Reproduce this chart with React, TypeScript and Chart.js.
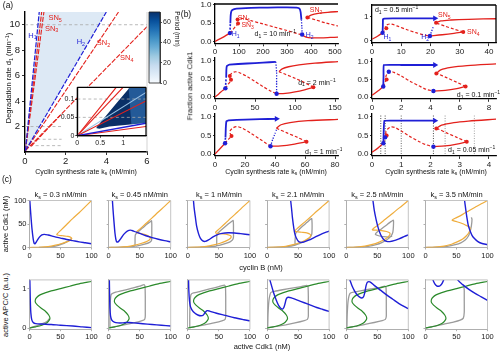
import React, { useEffect, useRef } from "react";
import { Chart, registerables } from "chart.js";

Chart.register(...registerables);

type P = [number, number];

const FONT = "'Liberation Sans', Arial, Helvetica, sans-serif";
const RED = "#e3211c";
const BLUE = "#1f1fd6";
const ORANGE = "#efad3d";
const GREEN = "#2b8a2b";
const GRAY = "#9b9b9b";
const BLUES = ["#f7fbff", "#deebf7", "#c6dbef", "#9ecae1", "#6baed6", "#4292c6", "#2171b5", "#08519c", "#08306b"];

// ================= (a) =================
const A_X_TICKS = [0, 2, 4, 6];
const A_Y_TICKS = [2, 4, 6, 8, 10];
const A_D_VALUES = [10, 2, 1, 0.5];
const A_D_SPANS: P[] = [[0, 6], [0, 1.8], [0.6, 1.8], [0.25, 1.8]];
const A_WEDGE: P[] = [[0.02, 0.1], [0.7, 11], [4.0, 11], [0.02, 0.1]];
const A_H1: P[] = [[0.02, 0.1], [0.7, 11]];
const A_SN3: P[] = [[0.02, 0.1], [0.82, 11]];
const A_SN5: P[] = [[0.02, 0.1], [0.93, 11]];
const A_H2: P[] = [[0.02, 0.1], [4.0, 11]];
const A_SN2: P[] = [[0.02, 0.1], [4.6, 11]];
const A_SN4: P[] = [[0.02, 0.1], [6, 9.85]];
const A_SN1: P[] = [[0.3, 0.45], [1.75, 2.9]];

const CB_TICKS = [0, 20, 40, 60];
const CB_MAX = 70;

const IN_X_TICKS = [0, 0.5, 1];
const IN_Y_TICKS = [0, 0.05, 0.1];
const IN_D_VALUES = [0.1, 0.05];
const IN_DARK: P[] = [[0.42, 0.023], [0.5, 0.035], [0.7, 0.065], [0.9, 0.095], [1.15, 0.132], [1.5, 0.132], [1.5, 0.035], [1.1, 0.03], [0.7, 0.025], [0.48, 0.019], [0.43, 0.02], [0.42, 0.023]];
const IN_MID: P[] = [[1.12, 0.132], [1.5, 0.132], [1.5, 0.035], [1.18, 0.031], [1.12, 0.132]];
const IN_RED1: P[] = [[0, 0], [0.85, 0.132]];
const IN_RED2: P[] = [[0, 0], [1.0, 0.132]];
const IN_LB: P[] = [[0, 0], [1.5, 0.118]];
const IN_RED3: P[] = [[0, 0], [1.5, 0.095]];
const IN_BLUE: P[] = [[0, 0], [1.5, 0.034]];
const IN_RED4: P[] = [[0, 0], [1.5, 0.025]];

// ================= (b) =================
const B1_X_TICKS = [0, 100, 200, 300, 400, 500];
const B2_X_TICKS = [0, 50, 100, 150];
const B3_X_TICKS = [0, 20, 40, 60, 80];
const B4_X_TICKS = [0, 10, 20, 30, 40];
const B5_X_TICKS = [0, 2, 4, 6, 8];
const B6_X_TICKS = [0, 1, 2, 3, 4];
const B_Y_TICKS = [0, 0.5, 1];
const B4_Y_TICKS = [0, 1];

const B1_RED_LO: P[] = [[0, 0], [20, 0.07], [40, 0.14], [62, 0.23]];
const B1_RED_UNST: P[] = [[62, 0.23], [75, 0.33], [88, 0.43], [96, 0.49], [93, 0.55], [94, 0.6], [102, 0.63], [115, 0.63], [150, 0.57], [200, 0.48], [250, 0.39], [300, 0.3], [340, 0.22], [362, 0.18]];
const B1_RED_LO2: P[] = [[362, 0.18], [380, 0.12], [400, 0.1], [440, 0.1], [480, 0.11], [515, 0.12]];
const B1_RED_MID: P[] = [[385, 0.66], [420, 0.59], [460, 0.51], [515, 0.42]];
const B1_RED_UP: P[] = [[385, 0.66], [400, 0.72], [430, 0.77], [470, 0.8], [515, 0.82]];
const B1_BLUE_UNST: P[] = [[62, 0.23], [63, 0.36], [64, 0.5]];
const B1_BLUE: P[] = [[64, 0.5], [65, 0.68], [67, 0.8], [72, 0.86], [90, 0.9], [150, 0.92], [220, 0.93], [300, 0.935], [340, 0.925], [352, 0.9], [357, 0.8], [360, 0.6]];
const B1_BLUE_UNST2: P[] = [[360, 0.6], [362, 0.4], [363, 0.2]];
const B1_DOTS_B: P[] = [[62, 0.23], [363, 0.19]];
const B1_DOTS_R: P[] = [[96, 0.49], [94, 0.6], [385, 0.66]];

const B2_RED_LO: P[] = [[0, 0], [5, 0.09], [9, 0.17], [13, 0.24]];
const B2_RED_UNST: P[] = [[13, 0.24], [16, 0.34], [19, 0.43], [20, 0.48], [18.5, 0.54], [18.5, 0.6], [21, 0.66], [25, 0.7], [30, 0.68], [40, 0.57], [50, 0.43], [60, 0.29], [70, 0.16], [77, 0.09]];
const B2_RED_LO2: P[] = [[77, 0.09], [88, 0.1], [100, 0.14], [112, 0.2], [123, 0.27]];
const B2_RED_MID: P[] = [[123, 0.27], [112, 0.4], [100, 0.52], [88, 0.63], [80, 0.7]];
const B2_RED_UP: P[] = [[80, 0.7], [84, 0.78], [92, 0.84], [105, 0.89], [125, 0.94], [155, 0.985]];
const B2_BLUE_UNST: P[] = [[13, 0.24], [13.5, 0.4], [14, 0.55]];
const B2_BLUE: P[] = [[14, 0.55], [14.2, 0.75], [14.8, 0.86], [18, 0.9], [40, 0.93], [60, 0.955], [76, 0.975]];
const B2_BLUE_UNST2: P[] = [[76, 0.975], [77, 0.7], [77, 0.4], [77, 0.09]];
const B2_DOTS_B: P[] = [[13, 0.24], [77, 0.09]];
const B2_DOTS_R: P[] = [[20, 0.48], [18.5, 0.58], [123, 0.27]];

const B3_RED_LO: P[] = [[0, 0], [3, 0.13], [6.7, 0.29]];
const B3_RED_UNST: P[] = [[6.7, 0.29], [8.5, 0.38], [10.5, 0.46], [11, 0.5], [10, 0.56], [10, 0.62], [11.8, 0.7], [14.5, 0.74], [18, 0.7], [24, 0.56], [30, 0.4], [34, 0.29], [37, 0.21]];
const B3_RED_LO2: P[] = [[37, 0.21], [44, 0.22], [52, 0.26], [61, 0.33]];
const B3_RED_MID: P[] = [[61, 0.33], [55, 0.45], [48, 0.57], [42.5, 0.67], [41, 0.7]];
const B3_RED_UP: P[] = [[41, 0.7], [44, 0.79], [50, 0.85], [62, 0.9], [83, 0.935]];
const B3_BLUE_UNST: P[] = [[6.7, 0.29], [7, 0.45]];
const B3_BLUE: P[] = [[7, 0.45], [7.2, 0.7], [7.6, 0.88], [9, 0.91], [20, 0.93], [30, 0.94], [41, 0.95]];
const B3_BLUE_UNST2: P[] = [[37, 0.21], [38.5, 0.4], [40, 0.55], [41, 0.66]];
const B3_DOTS_B: P[] = [[6.7, 0.29], [37, 0.21]];
const B3_DOTS_R: P[] = [[11, 0.49], [61, 0.33]];

const B4_RED_LO: P[] = [[0, 0.06], [2, 0.2], [3.6, 0.33]];
const B4_RED_UNST: P[] = [[3.6, 0.33], [4.4, 0.45], [4.9, 0.52], [4.6, 0.6], [5.3, 0.68], [6.5, 0.7], [9, 0.6], [12, 0.46], [15, 0.34], [18, 0.24], [19.8, 0.2]];
const B4_RED_LO2: P[] = [[19.8, 0.2], [24, 0.25], [28, 0.31], [31.2, 0.37]];
const B4_RED_MID: P[] = [[31.2, 0.37], [28, 0.49], [25, 0.61], [22.5, 0.72], [21.9, 0.75]];
const B4_RED_UP: P[] = [[21.9, 0.75], [23.5, 0.83], [27, 0.87], [33, 0.9], [43, 0.925]];
const B4_BLUE: P[] = [[3.6, 0.33], [3.7, 0.6], [3.75, 0.9], [4.2, 0.93], [10, 0.94], [16, 0.94], [21.5, 0.94]];
const B4_BLUE_UNST2: P[] = [[19.8, 0.2], [20.4, 0.4], [21, 0.6]];
const B4_DOTS_B: P[] = [[3.6, 0.33], [19.8, 0.2]];
const B4_DOTS_R: P[] = [[4.9, 0.52], [31.2, 0.37], [21.9, 0.75]];

const B5_RED_LO: P[] = [[0, 0.05], [0.4, 0.17], [0.77, 0.3]];
const B5_RED_UNST: P[] = [[0.77, 0.3], [0.9, 0.43], [1.0, 0.5], [0.95, 0.58], [1.05, 0.67], [1.25, 0.73], [1.5, 0.7], [2, 0.6], [2.6, 0.45], [3.2, 0.32], [3.7, 0.22], [4.2, 0.17]];
const B5_RED_LO2: P[] = [[4.2, 0.17], [5, 0.19], [5.8, 0.24], [6.4, 0.3]];
const B5_RED_MID: P[] = [[6.4, 0.3], [5.8, 0.42], [5.1, 0.55], [4.55, 0.65], [4.4, 0.67]];
const B5_RED_UP: P[] = [[4.4, 0.67], [4.7, 0.77], [5.4, 0.84], [6.5, 0.89], [8.5, 0.94]];
const B5_BLUE: P[] = [[0.77, 0.3], [0.79, 0.6], [0.8, 0.91], [2, 0.91], [3, 0.91], [4.3, 0.91]];
const B5_DOTS_B: P[] = [[0.77, 0.3], [1.15, 0.72], [4.2, 0.17]];
const B5_DOTS_R: P[] = [[1.0, 0.5], [6.4, 0.3], [4.4, 0.67]];

const B6_RED_LO: P[] = [[0, 0.05], [0.2, 0.16], [0.39, 0.29]];
const B6_RED_UNST: P[] = [[0.39, 0.29], [0.45, 0.42], [0.5, 0.5], [0.47, 0.58], [0.53, 0.67], [0.66, 0.73], [0.8, 0.71], [1.0, 0.62], [1.3, 0.47], [1.6, 0.34], [1.85, 0.25], [2.1, 0.2]];
const B6_RED_LO2: P[] = [[2.1, 0.2], [2.5, 0.22], [2.9, 0.27], [3.24, 0.33]];
const B6_RED_MID: P[] = [[3.24, 0.33], [2.9, 0.45], [2.55, 0.57], [2.28, 0.67], [2.2, 0.69]];
const B6_RED_UP: P[] = [[2.2, 0.69], [2.38, 0.78], [2.8, 0.85], [3.3, 0.89], [4.25, 0.94]];
const B6_BLUE: P[] = [[0.39, 0.29], [0.4, 0.6], [0.42, 0.9], [1, 0.9], [1.6, 0.9], [2.15, 0.9]];
const B6_DOTS_B: P[] = [[0.39, 0.29], [0.45, 0.45], [2.1, 0.2]];
const B6_DOTS_R: P[] = [[0.5, 0.5], [3.24, 0.33], [2.2, 0.69]];

// ================= (c) =================
const KS_VALUES = [0.3, 0.45, 1, 2.1, 2.5, 3.5];
const KS_LABELS = ["0.3", "0.45", "1", "2.1", "2.5", "3.5"];
const KS_LINE_COLORS = ["#333", "#333", "#555", "#333", "#888", "#999"];
const C_X_TICKS = [0, 50, 100];
const C_R1_Y_TICKS = [0, 50, 100];
const C_R2_Y_TICKS = [0, 1];

const C_OR_1: P[] = [[0, 0], [15, 0.5], [30, 2], [42, 5], [52, 8.5], [60, 12], [65, 15], [68, 18.5], [67, 21.5], [62, 23.5], [54, 25], [47, 26], [44, 27.5], [45, 29.5], [50, 36], [60, 49], [70, 62], [80, 74], [90, 87], [100, 100]];
const C_OR_2: P[] = [[0, 0], [15, 0.5], [30, 2], [42, 5], [52, 8.5], [60, 12], [65, 15.5], [67, 19], [66, 23], [61, 26.5], [54, 29], [48, 31], [45, 32.5], [46, 34.5], [50, 39], [60, 51], [70, 63], [80, 75.5], [90, 87.5], [100, 100]];
const C_OR_3: P[] = [[0, 0], [15, 0.6], [30, 2.2], [42, 5.5], [52, 9], [60, 13], [66, 17], [69.5, 21], [69, 25], [64, 27.5], [56, 29], [49, 30], [45, 31], [45, 33], [50, 39], [60, 51], [70, 63.5], [80, 75.5], [90, 88], [100, 100]];
const C_OR_4: P[] = [[0, 0], [15, 0.7], [30, 2.5], [42, 6], [52, 10], [60, 14.5], [66, 19], [70, 24], [69.5, 28], [64, 31], [56, 32.5], [49, 33.5], [45, 34], [45, 36], [50, 42], [60, 53.5], [70, 65], [80, 77], [90, 88.5], [100, 100]];
const C_OR_5: P[] = [[0, 0], [15, 0.8], [30, 2.8], [42, 6.5], [52, 11], [60, 16], [66, 21], [70, 26.5], [70, 31], [65, 34], [57, 36], [48, 37], [42, 37.5], [43, 39.5], [50, 46.5], [60, 57], [70, 67.5], [80, 78.5], [90, 89], [100, 100]];
const C_OR_6: P[] = [[0, 0], [15, 0.8], [30, 3], [42, 7], [52, 12.5], [60, 18], [66, 25], [70, 32], [72, 38], [71, 43], [65, 47.5], [57, 52], [49, 55.5], [43, 58], [44, 59.5], [50, 63.5], [60, 70.5], [70, 78], [80, 85.5], [90, 93], [100, 100]];

const C_BL1_1: P[] = [[0.5, 100], [2, 72], [4, 40], [6, 18], [7.5, 9], [9, 8], [12, 14], [16, 22], [20, 27], [24, 28], [30, 26.5], [40, 23], [50, 20], [60, 17], [70, 14.5], [80, 12], [90, 10], [100, 8]];
const C_BL1_2: P[] = [[6, 100], [7, 80], [8.5, 55], [10, 32], [11.5, 18], [13, 12], [16, 13], [20, 20], [25, 29], [30, 35], [35, 37], [40, 35], [50, 30], [60, 25], [70, 21], [80, 17.5], [90, 14.5], [100, 12]];
const C_BL1_3: P[] = [[9, 100], [10, 85], [12, 65], [14, 46], [17, 30], [20, 20], [24, 14], [28, 13], [33, 16], [40, 22], [47, 27], [55, 30], [65, 31.5], [75, 31], [85, 29.5], [100, 27]];
const C_BL1_4: P[] = [[38, 100], [39.5, 82], [41, 62], [43, 42], [45, 28], [48, 18], [51, 12.5], [55, 11], [60, 12], [67, 15.5], [75, 20.5], [85, 27], [100, 35]];
const C_BL1_5: P[] = [[43, 100], [45, 80], [48, 60], [51, 44], [54, 32], [57, 23], [61, 16], [65, 13], [70, 12.5], [77, 14.5], [85, 18.5], [93, 23], [100, 27]];
const C_BL1_6: P[] = [[63, 100], [65, 80], [67, 62], [69, 47], [72, 35], [75, 26], [79, 19], [84, 13], [90, 9], [100, 6]];

const C_GR1_1: P[] = [[15, 0], [30, 1], [42, 3], [52, 7], [60, 12], [65, 16], [67, 19]];
const C_GR1_2: P[] = [[0, 0], [20, 0.8], [35, 1.8], [42, 2.5], [42.5, 10], [42.5, 20], [43, 27], [47, 33], [55, 42], [62, 50], [67, 55], [69, 57], [69.5, 50], [69.5, 35], [69.5, 22], [69, 15], [66, 11], [58, 7], [50, 4.5], [43, 2.8]];
const C_GR1_3: P[] = [[0, 0], [20, 0.8], [35, 2], [46, 3.5], [46.5, 12], [46.5, 22], [47, 28], [51, 34], [58, 42], [65, 50], [71, 56], [73, 57.5], [73.5, 48], [73.5, 33], [73.5, 22], [72, 16], [68, 12], [60, 8], [52, 5], [46, 3.5]];
const C_GR1_4: P[] = [[0, 0], [20, 0.8], [35, 2.5], [45, 5], [45, 12], [45.5, 22], [46, 30], [50, 36], [57, 45], [64, 53], [70, 60], [72, 61.5], [72.5, 52], [72.5, 38], [72, 28], [69, 21], [63, 15], [55, 10], [48, 6.5], [45, 5]];
const C_GR1_5: P[] = [[0, 0], [20, 0.8], [35, 2.5], [48, 6], [58, 11], [66, 17], [72, 24], [75, 32], [76, 45], [76, 58], [72, 55], [64, 47], [56, 39], [49, 32], [47, 28], [52, 25], [60, 23], [68, 22], [74, 24]];
const C_GR1_6: P[] = [[0, 0], [20, 0.8], [35, 2.5], [48, 6], [57, 10], [64, 16], [69, 24], [72, 34], [74, 46], [75, 60], [74, 64]];

const C_GREEN: P[] = [[0, 0], [10, 0.03], [20, 0.07], [27, 0.12], [31, 0.18], [33, 0.25], [31, 0.33], [26, 0.42], [19, 0.5], [13, 0.58], [9.5, 0.65], [9.5, 0.72], [12, 0.78], [17, 0.84], [25, 0.89], [35, 0.94], [50, 1.0], [65, 1.06], [80, 1.12], [100, 1.18]];

const C_BL2_1: P[] = [[0.5, 1.25], [1, 0.9], [1.5, 0.6], [2.2, 0.38], [3.5, 0.22], [6, 0.14], [10, 0.11], [20, 0.1], [35, 0.09], [50, 0.07], [70, 0.05], [85, 0.03], [100, 0.01]];
const C_BL2_2: P[] = [[1, 1.25], [1.5, 0.8], [2, 0.5], [3, 0.3], [5, 0.2], [9, 0.15], [15, 0.13], [22, 0.13], [28, 0.14], [33, 0.14], [40, 0.13], [55, 0.11], [70, 0.09], [85, 0.07], [100, 0.05]];
const C_BL2_3: P[] = [[1, 1.25], [1.5, 0.95], [2.5, 0.7], [4, 0.55], [7, 0.45], [11, 0.38], [16, 0.33], [21, 0.31], [25, 0.33], [28, 0.4], [31, 0.44], [35, 0.43], [45, 0.38], [60, 0.32], [75, 0.26], [90, 0.21], [100, 0.18]];
const C_BL2_4: P[] = [[4, 1.25], [7, 1.08], [10, 0.92], [13, 0.78], [16, 0.66], [19, 0.56], [22, 0.5], [25, 0.48], [27, 0.52], [29, 0.62], [31, 0.74], [34, 0.78], [40, 0.76], [50, 0.7], [60, 0.64], [70, 0.58], [80, 0.52], [90, 0.47], [100, 0.42]];
const C_BL2_5: P[] = [[5, 1.25], [9, 1.08], [13, 0.95], [17, 0.85], [21, 0.79], [25, 0.76], [28, 0.8], [30, 0.92], [32, 1.08], [34, 1.16], [38, 1.17], [45, 1.08], [55, 0.96], [65, 0.84], [75, 0.73], [85, 0.62], [100, 0.49]];
const C_BL2_6: P[] = [[9, 1.4], [12, 1.22], [15, 1.12], [18, 1.07], [21, 1.06], [24, 1.08], [27, 1.14], [30, 1.25], [33, 1.4], [40, 1.55], [47, 1.4], [52, 1.22], [60, 1.1], [70, 0.98], [80, 0.88], [90, 0.79], [100, 0.7]];

const C_GR2_1: P[] = [[0, 0], [8, 0.04], [16, 0.08], [24, 0.13], [29, 0.18], [32, 0.24]];
const C_GR2_2: P[] = [[2, 0.01], [2, 0.3], [2.5, 0.65], [4, 0.85], [8, 0.89], [20, 0.94], [35, 1.0], [50, 1.06], [57, 1.1], [58.5, 1.06], [59, 0.8], [59, 0.5], [59, 0.3], [58, 0.22], [54, 0.19], [40, 0.13], [25, 0.08], [12, 0.04], [2, 0.01]];
const C_GR2_3: P[] = [[3, 0.01], [3, 0.3], [3.5, 0.65], [5, 0.85], [9, 0.89], [20, 0.93], [35, 0.99], [50, 1.05], [59, 1.09], [60.5, 1.05], [61, 0.8], [61, 0.5], [61, 0.3], [60, 0.22], [56, 0.19], [42, 0.13], [27, 0.08], [14, 0.04], [3, 0.01]];
const C_GR2_4: P[] = [[1, 0.01], [1.5, 0.35], [3, 0.7], [6, 0.9], [12, 0.93], [25, 0.97], [40, 1.01], [55, 1.05], [64, 1.08], [66, 1.05], [66.5, 0.8], [66.5, 0.5], [66.5, 0.3], [65, 0.22], [60, 0.19], [45, 0.13], [30, 0.08], [15, 0.04], [1, 0.01]];
const C_GR2_5: P[] = [[1, 0.01], [1.5, 0.35], [3, 0.7], [6, 0.88], [12, 0.91], [25, 0.95], [40, 0.99], [55, 1.03], [62, 1.06], [64, 1.03], [64.5, 0.8], [64.5, 0.5], [64.5, 0.3], [63, 0.22], [58, 0.19], [45, 0.14], [30, 0.09], [15, 0.04], [1, 0.01]];
const C_GR2_6: P[] = [[0, 0], [15, 0.05], [30, 0.1], [45, 0.15], [56, 0.2], [61, 0.25], [62.5, 0.4], [62.5, 0.7], [62.5, 0.95], [62, 1.05]];

// ================= machinery =================
interface Ax { min: number; max: number; ticks: number[]; labels?: boolean; fmt?: (v: number) => string; size?: number; tl?: number; pad?: number; color?: string; bw?: number; hidden?: boolean; }
interface Ser { pts: P[]; color: string; w?: number; dash?: number[]; fill?: any; dot?: number; arrow?: boolean; t?: number; }
interface Txt { x: number; y: number; parts: [string, number][]; color?: string; size?: number; align?: string; }
interface Spec { area: number[]; m: number[]; x: Ax; y: Ax; yRight?: boolean; series: Ser[]; texts?: Txt[]; frame?: { color: string; w: number; sides: string }; bg?: string; }

function makeScale(a: Ax, horiz: boolean, position: string, size: number) {
  const col = a.color ?? "#000";
  return {
    type: "linear",
    position,
    min: a.min,
    max: a.max,
    bounds: "data",
    display: !a.hidden,
    afterBuildTicks: (s: any) => {
      s.ticks = a.ticks.map((v) => ({ value: v }));
    },
    afterFit: (s: any) => {
      if (horiz) s.height = size;
      else s.width = size;
      s.paddingLeft = 0;
      s.paddingRight = 0;
      s.paddingTop = 0;
      s.paddingBottom = 0;
    },
    ticks: {
      display: a.labels !== false,
      autoSkip: false,
      maxRotation: 0,
      minRotation: 0,
      padding: a.pad ?? 1,
      color: "#1a1a1a",
      font: { family: FONT, size: a.size ?? 8 },
      callback: (v: any) => (a.fmt ? a.fmt(Number(v)) : String(v)),
    },
    grid: { display: true, drawOnChartArea: false, drawTicks: true, tickLength: a.tl ?? 3, color: col, tickColor: col, tickWidth: 0.8, lineWidth: 0.8 },
    border: { display: true, color: col, width: a.bw ?? 1.2 },
  };
}

function drawRich(ctx: CanvasRenderingContext2D, x: number, y: number, parts: [string, number][], size: number, color: string, align: string) {
  const seg = parts.map(([s, m]) => {
    const fs = m ? size * 0.72 : size;
    ctx.font = `${fs}px ${FONT}`;
    return { s, m, fs, w: ctx.measureText(s).width };
  });
  const tw = seg.reduce((acc, g) => acc + g.w, 0);
  let cx = align === "center" ? x - tw / 2 : align === "right" ? x - tw : x;
  ctx.fillStyle = color;
  ctx.textBaseline = "middle";
  ctx.textAlign = "left";
  for (const g of seg) {
    ctx.font = `${g.fs}px ${FONT}`;
    const dy = g.m === 1 ? size * 0.3 : g.m === 2 ? -size * 0.35 : 0;
    ctx.fillText(g.s, cx, y + dy);
    cx += g.w;
  }
}

function overlay(spec: Spec) {
  return {
    id: "overlay",
    beforeDraw(chart: any) {
      if (!spec.bg) return;
      const { ctx, chartArea: a } = chart;
      ctx.save();
      ctx.fillStyle = spec.bg;
      ctx.fillRect(a.left, a.top, a.right - a.left, a.bottom - a.top);
      ctx.restore();
    },
    afterDraw(chart: any) {
      const { ctx, chartArea: a } = chart;
      ctx.save();
      if (spec.frame) {
        const f = spec.frame;
        ctx.strokeStyle = f.color;
        ctx.lineWidth = f.w;
        ctx.beginPath();
        if (f.sides.includes("t")) { ctx.moveTo(a.left, a.top); ctx.lineTo(a.right, a.top); }
        if (f.sides.includes("r")) { ctx.moveTo(a.right, a.top); ctx.lineTo(a.right, a.bottom); }
        if (f.sides.includes("b")) { ctx.moveTo(a.left, a.bottom); ctx.lineTo(a.right, a.bottom); }
        if (f.sides.includes("l")) { ctx.moveTo(a.left, a.top); ctx.lineTo(a.left, a.bottom); }
        ctx.stroke();
      }
      for (const t of spec.texts ?? []) {
        const px = chart.scales.x.getPixelForValue(t.x);
        const py = chart.scales.y.getPixelForValue(t.y);
        drawRich(ctx, px, py, t.parts, t.size ?? 7, t.color ?? "#111", t.align ?? "left");
      }
      ctx.restore();
    },
  };
}

function buildConfig(spec: Spec, ML: number, MT: number, MR: number, MB: number) {
  const datasets: any[] = [];
  spec.series.forEach((s, i) => {
    const data = s.pts.map(([x, y]) => ({ x, y }));
    const order = -i;
    if (s.dot) {
      datasets.push({ data, order, showLine: false, pointRadius: s.dot, pointHoverRadius: s.dot, pointBackgroundColor: s.color, pointBorderColor: s.color, pointBorderWidth: 0 });
      return;
    }
    datasets.push({
      data,
      order,
      showLine: true,
      borderColor: s.fill ? "rgba(0,0,0,0)" : s.color,
      borderWidth: s.fill ? 0 : s.w ?? 1.2,
      borderDash: s.dash ?? [],
      pointRadius: 0,
      pointHoverRadius: 0,
      tension: s.t ?? 0,
      fill: s.fill ? "shape" : false,
      backgroundColor: s.fill ?? "rgba(0,0,0,0)",
      borderCapStyle: "butt",
      borderJoinStyle: "round",
    });
    if (s.arrow) {
      datasets.push({ data: [data[data.length - 1]], order: order - 0.5, showLine: false, pointStyle: "triangle", rotation: 90, pointRadius: 3.4, pointBackgroundColor: s.color, pointBorderColor: s.color, pointBorderWidth: 0 });
    }
  });
  const yR = !!spec.yRight;
  return {
    type: "scatter",
    data: { datasets },
    options: {
      responsive: false,
      maintainAspectRatio: false,
      animation: false,
      events: [],
      devicePixelRatio: 1,
      layout: { padding: { left: yR ? ML : 0, right: yR ? 0 : MR, top: MT, bottom: spec.x.hidden ? MB : 0 } },
      plugins: { legend: { display: false }, tooltip: { enabled: false }, title: { display: false } },
      scales: {
        x: makeScale(spec.x, true, "bottom", MB),
        y: makeScale(spec.y, false, yR ? "right" : "left", yR ? MR : ML),
      },
    },
    plugins: [overlay(spec)],
  } as any;
}

function Plot({ spec }: { spec: Spec }) {
  const ref = useRef<HTMLCanvasElement | null>(null);
  const [l, t, r, b] = spec.area;
  const [ml, mt, mr, mb] = spec.m;
  const left = Math.floor(l - ml);
  const top = Math.floor(t - mt);
  const W = Math.ceil(r + mr) - left;
  const H = Math.ceil(b + mb) - top;
  const ML = l - left, MT = t - top, MR = left + W - r, MB = top + H - b;
  useEffect(() => {
    const chart = new Chart(ref.current as HTMLCanvasElement, buildConfig(spec, ML, MT, MR, MB));
    return () => chart.destroy();
  }, []);
  return <canvas ref={ref} width={W} height={H} style={{ position: "absolute", left, top, width: W, height: H }} />;
}

// ================= specs =================
const f1 = (v: number) => v.toFixed(1);
const sub = (base: string, s: string): [string, number][] => [[base, 0], [s, 1]];
const dLabel = (v: string): [string, number][] => [["d", 0], ["1", 1], [` = ${v} min`, 0], ["\u22121", 2]];

const gradFill = (ctx: any) => {
  const ch = ctx.chart;
  const a = ch.chartArea;
  if (!a) return BLUES[4];
  const g = ch.ctx.createLinearGradient(0, a.bottom, 0, a.top);
  BLUES.forEach((c, i) => g.addColorStop(i / (BLUES.length - 1), c));
  return g;
};

const aDash = [5, 1.5];
const specA: Spec = {
  area: [25, 12, 147, 152],
  m: [22, 4, 4, 16],
  x: { min: 0, max: 6, ticks: A_X_TICKS, size: 9.5, tl: 3, pad: 1, bw: 1.4 },
  y: { min: 0, max: 11, ticks: A_Y_TICKS, size: 9.5, tl: 3, pad: 2, bw: 1.4 },
  series: [
    { pts: A_WEDGE, color: "#dde9f5", fill: "#dde9f5" },
    ...A_D_VALUES.map((d, i) => ({ pts: [[A_D_SPANS[i][0], d], [A_D_SPANS[i][1], d]] as P[], color: "#a8a8a8", w: 0.8, dash: [3, 2.5] })),
    { pts: A_SN1, color: RED, w: 1.1, dash: aDash },
    { pts: A_SN4, color: RED, w: 1.1, dash: aDash },
    { pts: A_SN2, color: RED, w: 1.1, dash: aDash },
    { pts: A_H2, color: BLUE, w: 1.2, dash: aDash },
    { pts: A_SN5, color: RED, w: 1.1, dash: aDash },
    { pts: A_SN3, color: RED, w: 1.1, dash: aDash },
    { pts: A_H1, color: BLUE, w: 1.2, dash: aDash },
  ],
  texts: [
    { x: 0.16, y: 9.15, parts: sub("H", "1"), color: BLUE, size: 7.5 },
    { x: 1.15, y: 10.5, parts: sub("SN", "5"), color: RED, size: 7.5 },
    { x: 0.98, y: 9.7, parts: sub("SN", "3"), color: RED, size: 7.5 },
    { x: 2.54, y: 8.66, parts: sub("H", "2"), color: BLUE, size: 7.5 },
    { x: 3.53, y: 8.54, parts: sub("SN", "2"), color: RED, size: 7.5 },
    { x: 4.67, y: 7.36, parts: sub("SN", "4"), color: RED, size: 7.5 },
  ],
  frame: { color: "#c8c8c8", w: 0.8, sides: "r" },
};

const specCB: Spec = {
  area: [149, 12, 160, 87],
  m: [1, 4, 13, 4],
  yRight: true,
  x: { min: 0, max: 1, ticks: [], hidden: true },
  y: { min: 0, max: CB_MAX, ticks: CB_TICKS, size: 7, tl: 2, pad: 1, bw: 0.8, color: "#222" },
  series: [{ pts: [[0, 0], [1, 0], [1, CB_MAX], [0, CB_MAX], [0, 0]], color: "#000", fill: gradFill }],
  frame: { color: "#222", w: 0.8, sides: "trbl" },
};

const specIn: Spec = {
  area: [77.3, 87.3, 146, 135.7],
  m: [17, 2, 3, 11],
  x: { min: 0, max: 1.5, ticks: IN_X_TICKS, size: 7, tl: 2, pad: 1, bw: 1.2 },
  y: { min: 0, max: 0.132, ticks: IN_Y_TICKS, size: 7, tl: 2, pad: 1, bw: 1.2 },
  bg: "#ffffff",
  series: [
    { pts: IN_DARK, color: "#0a2f66", fill: "#0a2f66" },
    { pts: IN_MID, color: "#245f9e", fill: "rgba(45,105,170,0.75)" },
    ...IN_D_VALUES.map((d) => ({ pts: [[0, d], [1.5, d]] as P[], color: "#a8a8a8", w: 0.8, dash: [3, 2.5] })),
    { pts: IN_RED1, color: RED, w: 1.1 },
    { pts: IN_RED2, color: RED, w: 1.1 },
    { pts: IN_LB, color: "#9cc3e6", w: 1.1 },
    { pts: IN_RED3, color: RED, w: 1.1 },
    { pts: IN_RED4, color: RED, w: 1.1 },
    { pts: IN_BLUE, color: BLUE, w: 1.3 },
  ],
  frame: { color: "#000", w: 1.2, sides: "trbl" },
};

interface BData { lo: P[]; unst: P[]; lo2: P[]; mid: P[]; up: P[]; bUnst?: P[]; blue: P[]; bUnst2?: P[]; dotsB: P[]; dotsR: P[]; arrow?: boolean; }

function bSpec(area: number[], xAx: Ax, yAx: Ax, d: BData, texts: Txt[], frame?: any, extra: Ser[] = []): Spec {
  const series: Ser[] = [
    ...extra,
    { pts: d.lo, color: RED, w: 1.3, t: 0.3 },
    { pts: d.unst, color: RED, w: 1.2, dash: [3, 2], t: 0.3 },
    { pts: d.lo2, color: RED, w: 1.3, t: 0.3 },
    { pts: d.mid, color: RED, w: 1.2, dash: [3, 2], t: 0.3 },
    { pts: d.up, color: RED, w: 1.3, t: 0.3 },
  ];
  if (d.bUnst) series.push({ pts: d.bUnst, color: BLUE, w: 1.6, dash: [2, 1.5] });
  series.push({ pts: d.blue, color: BLUE, w: 1.8, t: 0.05, arrow: d.arrow });
  if (d.bUnst2) series.push({ pts: d.bUnst2, color: BLUE, w: 1.3, dash: [1.2, 1.5], t: 0.1 });
  series.push({ pts: d.dotsR, color: RED, dot: 2 });
  series.push({ pts: d.dotsB, color: BLUE, dot: 2.2 });
  const left = area[0] < 300;
  return { area, m: [left ? 24 : 20, 3, 4, 13], x: xAx, y: yAx, series, texts, frame };
}

const bx = (max: number, ticks: number[]): Ax => ({ min: 0, max, ticks, size: 8, tl: 3, pad: 1, bw: 1.3 });
const by = (min: number, max: number, ticks: number[], fmt?: (v: number) => string): Ax => ({ min, max, ticks, fmt, size: 8, tl: 2, pad: 1.5, bw: 1.3 });

const LX: [number, number] = [215, 338];
const RX: [number, number] = [372, 496];

const specB1 = bSpec([LX[0], 4, LX[1], 43.3], bx(512.5, B1_X_TICKS), by(-0.05, 1.027, B_Y_TICKS, f1),
  { lo: B1_RED_LO, unst: B1_RED_UNST, lo2: B1_RED_LO2, mid: B1_RED_MID, up: B1_RED_UP, bUnst: B1_BLUE_UNST, blue: B1_BLUE, bUnst2: B1_BLUE_UNST2, dotsB: B1_DOTS_B, dotsR: B1_DOTS_R },
  [
    { x: 70, y: 0.2, parts: sub("H", "1"), color: BLUE },
    { x: 95, y: 0.63, parts: sub("SN", "1"), color: RED },
    { x: 110, y: 0.45, parts: sub("SN", "3"), color: RED },
    { x: 165, y: 0.19, parts: dLabel("10") },
    { x: 378, y: 0.17, parts: sub("H", "2"), color: BLUE },
    { x: 395, y: 0.86, parts: sub("SN", "2"), color: RED },
  ],
  { color: "#000", w: 1.3, sides: "t" });

const specB2 = bSpec([LX[0], 58.1, LX[1], 98.8], bx(153.75, B2_X_TICKS), by(-0.05, 1.08, B_Y_TICKS, f1),
  { lo: B2_RED_LO, unst: B2_RED_UNST, lo2: B2_RED_LO2, mid: B2_RED_MID, up: B2_RED_UP, bUnst: B2_BLUE_UNST, blue: B2_BLUE, bUnst2: B2_BLUE_UNST2, dotsB: B2_DOTS_B, dotsR: B2_DOTS_R },
  [{ x: 104, y: 0.4, parts: dLabel("2") }]);

const specB3 = bSpec([LX[0], 113.7, LX[1], 155.9], bx(82, B3_X_TICKS), by(-0.05, 1.08, B_Y_TICKS, f1),
  { lo: B3_RED_LO, unst: B3_RED_UNST, lo2: B3_RED_LO2, mid: B3_RED_MID, up: B3_RED_UP, bUnst: B3_BLUE_UNST, blue: B3_BLUE, bUnst2: B3_BLUE_UNST2, dotsB: B3_DOTS_B, dotsR: B3_DOTS_R, arrow: true },
  [{ x: 60, y: 0.05, parts: dLabel("1") }]);

const specB4 = bSpec([RX[0], 4.7, RX[1], 43.1], bx(42.4, B4_X_TICKS), by(-0.1, 1.5, B4_Y_TICKS),
  { lo: B4_RED_LO, unst: B4_RED_UNST, lo2: B4_RED_LO2, mid: B4_RED_MID, up: B4_RED_UP, blue: B4_BLUE, bUnst2: B4_BLUE_UNST2, dotsB: B4_DOTS_B, dotsR: B4_DOTS_R, arrow: true },
  [
    { x: 1, y: 1.28, parts: dLabel("0.5") },
    { x: 3.9, y: 0.14, parts: sub("H", "1"), color: BLUE },
    { x: 16.8, y: 0.14, parts: sub("H", "2"), color: BLUE },
    { x: 22.6, y: 1.07, parts: sub("SN", "5"), color: RED },
    { x: 32.5, y: 0.36, parts: sub("SN", "4"), color: RED },
  ],
  { color: "#000", w: 1.3, sides: "tr" });

const specB5 = bSpec([RX[0], 58.1, RX[1], 98.8], bx(8.48, B5_X_TICKS), by(-0.05, 1.08, B_Y_TICKS, f1),
  { lo: B5_RED_LO, unst: B5_RED_UNST, lo2: B5_RED_LO2, mid: B5_RED_MID, up: B5_RED_UP, blue: B5_BLUE, dotsB: B5_DOTS_B, dotsR: B5_DOTS_R, arrow: true },
  [{ x: 5.8, y: 0.05, parts: dLabel("0.1") }]);

const specB6 = bSpec([RX[0], 113.7, RX[1], 155.9], bx(4.24, B6_X_TICKS), by(-0.05, 1.08, B_Y_TICKS, f1),
  { lo: B6_RED_LO, unst: B6_RED_UNST, lo2: B6_RED_LO2, mid: B6_RED_MID, up: B6_RED_UP, blue: B6_BLUE, dotsB: B6_DOTS_B, dotsR: B6_DOTS_R, arrow: true },
  [{ x: 2.6, y: 0.1, parts: dLabel("0.05") }],
  undefined,
  KS_VALUES.map((k, i) => ({ pts: [[k, 0], [k, 1.05]] as P[], color: KS_LINE_COLORS[i], w: 0.9, dash: [1, 1.5] })));

const C_X0 = 29.5, C_STEP = 79.2, C_W = 62;
function cSpec(col: number, row: number, series: Ser[]): Spec {
  const l = C_X0 + col * C_STEP;
  const area = row === 0 ? [l, 200.5, l + C_W, 247.5] : [l, 279.9, l + C_W, 329.2];
  const g = "#9a9a9a";
  return {
    area,
    m: [col === 0 ? 17 : 4, 3, 7, 12],
    x: { min: 0, max: 100, ticks: C_X_TICKS, size: 7.5, tl: 2, pad: 1.5, color: g, bw: 0.8 },
    y: row === 0
      ? { min: 0, max: 100, ticks: C_R1_Y_TICKS, labels: col === 0, size: 7.5, tl: 2, pad: 1, color: g, bw: 0.8 }
      : { min: -0.03, max: 1.22, ticks: C_R2_Y_TICKS, labels: col === 0, size: 7.5, tl: 2, pad: 1, color: g, bw: 0.8 },
    series,
    frame: { color: "#b5b5b5", w: 0.8, sides: "tr" },
  };
}

const C_ORANGE = [C_OR_1, C_OR_2, C_OR_3, C_OR_4, C_OR_5, C_OR_6];
const C_BLUE1 = [C_BL1_1, C_BL1_2, C_BL1_3, C_BL1_4, C_BL1_5, C_BL1_6];
const C_GRAY1 = [C_GR1_1, C_GR1_2, C_GR1_3, C_GR1_4, C_GR1_5, C_GR1_6];
const C_BLUE2 = [C_BL2_1, C_BL2_2, C_BL2_3, C_BL2_4, C_BL2_5, C_BL2_6];
const C_GRAY2 = [C_GR2_1, C_GR2_2, C_GR2_3, C_GR2_4, C_GR2_5, C_GR2_6];

const specsC: Spec[] = [];
for (let i = 0; i < 6; i++) {
  specsC.push(cSpec(i, 0, [
    { pts: C_GRAY1[i], color: GRAY, w: 1.3, t: 0.15 },
    { pts: C_ORANGE[i], color: ORANGE, w: 1.2, t: 0.25 },
    { pts: C_BLUE1[i], color: BLUE, w: 1.4, t: 0.3 },
  ]));
  specsC.push(cSpec(i, 1, [
    { pts: C_GRAY2[i], color: GRAY, w: 1.3, t: 0.15 },
    { pts: C_GREEN, color: GREEN, w: 1.2, t: 0.3 },
    { pts: C_BLUE2[i], color: BLUE, w: 1.4, t: 0.3 },
  ]));
}

const ALL_SPECS: Spec[] = [specA, specCB, specIn, specB1, specB2, specB3, specB4, specB5, specB6, ...specsC];

// ================= labels =================
function L({ x, y, size = 7, rot = 0, children, color = "#111" }: any) {
  return (
    <div style={{ position: "absolute", left: x, top: y, transform: `translate(-50%,-50%) rotate(${rot}deg)`, fontSize: size, lineHeight: 1, whiteSpace: "nowrap", color, fontFamily: FONT }}>
      {children}
    </div>
  );
}
const Sb = ({ children }: any) => <sub style={{ fontSize: "0.72em", verticalAlign: "-0.25em", lineHeight: 0 }}>{children}</sub>;
const Sp = ({ children }: any) => <sup style={{ fontSize: "0.72em", verticalAlign: "0.4em", lineHeight: 0 }}>{children}</sup>;

export default function App() {
  const ksTitle = (
    <>
      Cyclin synthesis rate k<Sb>s</Sb> (nM/min)
    </>
  );
  return (
    <div style={{ position: "absolute", left: 0, top: 0, width: 500, height: 353, background: "#fff", overflow: "hidden", fontFamily: FONT, color: "#111" }}>
      {ALL_SPECS.map((s, i) => (
        <Plot key={i} spec={s} />
      ))}
      <L x={8} y={5} size={8.5}>(a)</L>
      <L x={186} y={14} size={8.5}>(b)</L>
      <L x={7} y={179} size={8.5}>(c)</L>

      <L x={9} y={78} size={7.5} rot={-90}>
        Degradation rate d<Sb>1</Sb> (min<Sp>−1</Sp>)
      </L>
      <L x={86} y={171} size={7}>{ksTitle}</L>
      <L x={176.5} y={29} size={6.5} rot={90}>Period (min)</L>

      <L x={190} y={86} size={7.5} rot={-90}>Fraction active Cdk1</L>
      <L x={276} y={171} size={7}>{ksTitle}</L>
      <L x={436} y={171} size={7}>{ksTitle}</L>

      {KS_LABELS.map((k, i) => (
        <L key={k} x={C_X0 + i * C_STEP + C_W / 2} y={195} size={7.5}>
          k<Sb>s</Sb> = {k} nM/min
        </L>
      ))}
      <L x={261} y={268} size={7.5}>cyclin B (nM)</L>
      <L x={262} y={347} size={7.5}>active Cdk1 (nM)</L>
      <L x={6} y={224} size={7.5} rot={-90}>active Cdk1 (nM)</L>
      <L x={6} y={305} size={7.5} rot={-90}>active APC/C (a.u.)</L>
    </div>
  );
}
